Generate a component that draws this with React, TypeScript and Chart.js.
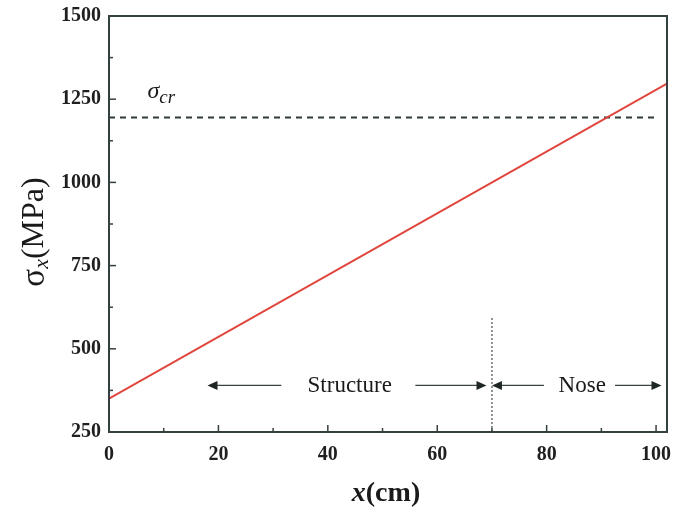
import React, { useEffect, useRef } from "react";
import { Chart, registerables } from "chart.js";

Chart.register(...registerables);

// ---- data ----
const stressX = [0, 102];
const stressY = [350, 1297];
const critX = [0, 100.5];
const critY = [1195, 1195];
const critLabel = "σ";
const critSub = "cr";
const critLabelPos = [10.3, 1255];
const boundaryX = [70, 70];
const boundaryY = [250, 597];
const regionY = 390;
const structureArrows = [[31.5, 18], [56, 69]];
const noseArrows = [[79.5, 70], [92.5, 101]];
const structureLabel = { text: "Structure", x: 44 };
const noseLabel = { text: "Nose", x: 86.5 };
const xTicks = [0, 20, 40, 60, 80, 100];
const xMinor = [10, 30, 50, 70, 90];
const yTicks = [250, 500, 750, 1000, 1250, 1500];
const yMinor = [375, 625, 875, 1125, 1375];

const AXIS = "#34403f";
const SERIF = "'Liberation Serif', 'DejaVu Serif', serif";

const decorPlugin = {
  id: "decor",
  afterDatasetsDraw(chart: any) {
    const { ctx, chartArea: a, scales } = chart;
    const xs = scales.x, ys = scales.y;
    ctx.save();
    // arrows
    ctx.strokeStyle = "#3a4443";
    ctx.fillStyle = "#1f2726";
    ctx.lineWidth = 1.3;
    const py = ys.getPixelForValue(regionY);
    const drawArrow = (from: number, to: number) => {
      const x1 = xs.getPixelForValue(from);
      const x2 = xs.getPixelForValue(to);
      const dir = Math.sign(x2 - x1);
      ctx.beginPath();
      ctx.moveTo(x1, py);
      ctx.lineTo(x2 - dir * 6, py);
      ctx.stroke();
      ctx.beginPath();
      ctx.moveTo(x2, py);
      ctx.lineTo(x2 - dir * 10, py - 4.5);
      ctx.lineTo(x2 - dir * 10, py + 4.5);
      ctx.closePath();
      ctx.fill();
    };
    [...structureArrows, ...noseArrows].forEach(([f, t]) => drawArrow(f, t));
    ctx.font = `23px ${SERIF}`;
    ctx.textAlign = "center";
    ctx.textBaseline = "middle";
    ctx.fillStyle = "#1a1a1a";
    ctx.fillText(structureLabel.text, xs.getPixelForValue(structureLabel.x), py + 1);
    ctx.fillText(noseLabel.text, xs.getPixelForValue(noseLabel.x), py + 1);

    // sigma_cr label
    const lx = xs.getPixelForValue(critLabelPos[0]);
    const ly = ys.getPixelForValue(critLabelPos[1]);
    ctx.textAlign = "left";
    ctx.textBaseline = "alphabetic";
    ctx.font = `italic 24px ${SERIF}`;
    const sw = ctx.measureText(critLabel).width;
    const totalW = sw + 24;
    ctx.fillText(critLabel, lx - totalW / 2, ly);
    ctx.font = `italic 19px ${SERIF}`;
    ctx.fillText(critSub, lx - totalW / 2 + sw, ly + 5);

    // frame
    ctx.strokeStyle = AXIS;
    ctx.lineWidth = 2;
    ctx.strokeRect(a.left, a.top, a.right - a.left, a.bottom - a.top);
    // ticks (inward)
    ctx.lineWidth = 1.5;
    const tickX = (v: number, len: number) => {
      const x = xs.getPixelForValue(v);
      ctx.beginPath();
      ctx.moveTo(x, a.bottom);
      ctx.lineTo(x, a.bottom - len);
      ctx.stroke();
    };
    const tickY = (v: number, len: number) => {
      const y = ys.getPixelForValue(v);
      ctx.beginPath();
      ctx.moveTo(a.left, y);
      ctx.lineTo(a.left + len, y);
      ctx.stroke();
    };
    xTicks.forEach((v) => tickX(v, 7));
    xMinor.forEach((v) => tickX(v, 4));
    yTicks.forEach((v) => tickY(v, 7));
    yMinor.forEach((v) => tickY(v, 4));

    // axis titles
    ctx.fillStyle = "#1a1a1a";
    ctx.textBaseline = "middle";
    // x title
    ctx.font = `italic bold 28px ${SERIF}`;
    const xi = "x";
    const xiW = ctx.measureText(xi).width;
    ctx.font = `bold 28px ${SERIF}`;
    const xr = "(cm)";
    const xrW = ctx.measureText(xr).width;
    const cx = 386;
    const cy = 494;
    ctx.textAlign = "left";
    ctx.font = `italic bold 28px ${SERIF}`;
    ctx.fillText(xi, cx - (xiW + xrW) / 2, cy);
    ctx.font = `bold 28px ${SERIF}`;
    ctx.fillText(xr, cx - (xiW + xrW) / 2 + xiW, cy);

    // y title rotated
    ctx.save();
    ctx.translate(35, 232);
    ctx.rotate(-Math.PI / 2);
    ctx.font = `33px ${SERIF}`;
    const s1 = "σ";
    const s1W = ctx.measureText(s1).width;
    ctx.font = `italic 22px ${SERIF}`;
    const s2 = "x";
    const s2W = ctx.measureText(s2).width;
    ctx.font = `32px ${SERIF}`;
    const s3 = "(MPa)";
    const s3W = ctx.measureText(s3).width;
    let sx = -(s1W + s2W + s3W) / 2;
    ctx.font = `33px ${SERIF}`;
    ctx.fillText(s1, sx, 0);
    sx += s1W;
    ctx.font = `italic 22px ${SERIF}`;
    ctx.fillText(s2, sx, 7);
    sx += s2W;
    ctx.font = `32px ${SERIF}`;
    ctx.fillText(s3, sx, 0);
    ctx.restore();

    ctx.restore();
  },
};

export default function App() {
  const ref = useRef<HTMLCanvasElement | null>(null);
  useEffect(() => {
    if (!ref.current) return;
    const toPts = (xs: number[], ys: number[]) => xs.map((x, i) => ({ x, y: ys[i] }));
    const chart = new Chart(ref.current, {
      type: "scatter",
      data: {
        datasets: [
          {
            data: toPts(stressX, stressY),
            showLine: true,
            borderColor: "#e0453d",
            borderWidth: 2,
            pointRadius: 0,
          },
          {
            data: toPts(critX, critY),
            showLine: true,
            borderColor: "#2e3b3a",
            borderWidth: 2,
            borderDash: [6, 5],
            pointRadius: 0,
          },
          {
            data: toPts(boundaryX, boundaryY),
            showLine: true,
            borderColor: "#6a7272",
            borderWidth: 1.5,
            borderDash: [2, 2],
            pointRadius: 0,
          },
        ],
      },
      options: {
        animation: false,
        responsive: false,
        maintainAspectRatio: false,
        layout: { padding: { top: 16, right: 16, left: 0, bottom: 0 } },
        plugins: { legend: { display: false }, tooltip: { enabled: false } },
        scales: {
          x: {
            type: "linear",
            min: 0,
            max: 102,
            grid: { display: false },
            border: { display: false },
            afterBuildTicks: (s: any) => {
              s.ticks = xTicks.map((v) => ({ value: v }));
            },
            afterFit: (s: any) => {
              s.height = 76;
            },
            ticks: {
              padding: 3,
              color: "#1f1f1f",
              font: { family: SERIF, size: 20, weight: "bold" },
              maxRotation: 0,
              callback: (v: any) => String(v),
            },
          },
          y: {
            type: "linear",
            min: 250,
            max: 1500,
            grid: { display: false },
            border: { display: false },
            afterBuildTicks: (s: any) => {
              s.ticks = yTicks.map((v) => ({ value: v }));
            },
            afterFit: (s: any) => {
              s.width = 109;
            },
            ticks: {
              padding: 0,
              color: "#1f1f1f",
              font: { family: SERIF, size: 20, weight: "bold" },
              callback: (v: any) => String(v),
            },
          },
        },
      },
      plugins: [decorPlugin],
    });
    return () => chart.destroy();
  }, []);
  return (
    <div style={{ position: "fixed", left: 0, top: 0, width: 683, height: 508, background: "#fff" }}>
      <canvas ref={ref} width={683} height={508} style={{ width: 683, height: 508 }} />
    </div>
  );
}
